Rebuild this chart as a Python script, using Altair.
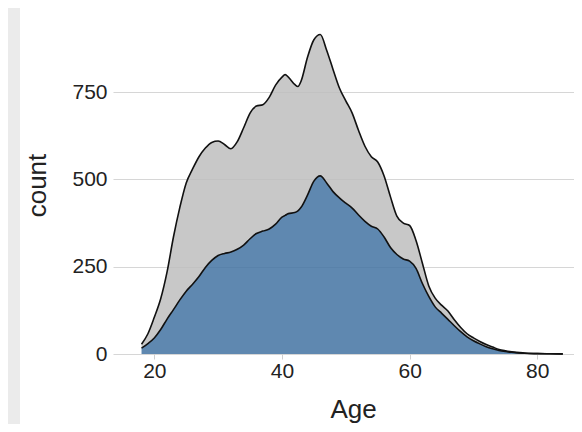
import altair as alt
import pandas as pd

# Age grid (years)
ages = [18, 19, 20, 21, 22, 23, 24, 25, 26, 27, 28, 29, 30, 31, 32, 33, 34, 35,
        36, 37, 38, 39, 40, 40.5, 41, 42, 42.5, 43, 44, 45, 46, 47, 48, 49, 50, 51,
        52, 53, 54, 55, 56, 57, 58, 59, 60, 61, 62, 63, 64, 65, 66, 67, 68, 69, 70,
        71, 72, 73, 74, 75, 76, 78, 80, 82, 84]

# Stacked total (top of grey layer)
total_count = [28, 58, 105, 158, 235, 335, 420, 490, 530, 565, 590, 606, 610, 600,
               588, 608, 648, 690, 710, 714, 735, 770, 793, 800, 793, 772, 766, 782,
               850, 900, 915, 870, 815, 762, 725, 690, 640, 595, 565, 550, 510, 450,
               395, 375, 368, 325, 260, 195, 160, 140, 123, 98, 76, 58, 46, 36, 27,
               20, 13, 9, 6, 3, 1.5, 0.8, 0.3]

# Lower (blue) group
blue_count = [17, 30, 46, 70, 100, 127, 155, 180, 200, 222, 248, 268, 282, 288,
              292, 300, 312, 330, 345, 352, 358, 372, 392, 397, 402, 405, 410, 420,
              455, 495, 510, 490, 465, 447, 432, 418, 398, 380, 366, 358, 335, 305,
              285, 272, 266, 245, 202, 165, 135, 117, 99, 81, 64, 49, 38, 29, 21,
              15, 10, 7, 5, 2, 1, 0.5, 0.2]

x_ticks = [20, 40, 60, 80]
y_ticks = [0, 250, 500, 750]

df = pd.DataFrame({"Age": ages, "total": total_count, "blue": blue_count})

x_enc = alt.X("Age:Q", scale=alt.Scale(domain=[13.53, 85.75], nice=False, zero=False),
              axis=alt.Axis(values=x_ticks, title="Age", grid=False, domain=False,
                            ticks=True, tickSize=5, tickColor="#cfcfcf", tickWidth=1,
                            labelFontSize=21, labelColor="#222222",
                            labelBaseline="alphabetic", labelPadding=18,
                            titleFontSize=26, titleFontWeight="normal", titleColor="#222222",
                            titleX=240, titleY=63, titleBaseline="alphabetic",
                            titleAlign="center"))

y_scale = alt.Scale(domain=[0, 968], nice=False)
y_axis = alt.Axis(values=y_ticks, title="count", grid=True, gridColor="#d6d6d6",
                  gridWidth=1.2, domain=False, ticks=False, labelPadding=6,
                  labelFontSize=21, labelColor="#222222",
                  titleFontSize=26, titleFontWeight="normal", titleColor="#222222",
                  titleX=-76, titleY=169, titleAngle=270, titleBaseline="middle",
                  titleAlign="center")

base = alt.Chart(df)

grey_area = base.mark_area(interpolate="monotone", color="#bebebe", opacity=0.85).encode(
    x=x_enc,
    y=alt.Y("total:Q", scale=y_scale, axis=y_axis),
    y2="blue:Q",
)

blue_area = base.mark_area(interpolate="monotone", color="#4373a2", opacity=0.85).encode(
    x="Age:Q",
    y="blue:Q",
)

top_line = base.mark_line(interpolate="monotone", color="#111111", strokeWidth=1.6).encode(
    x="Age:Q",
    y="total:Q",
)

blue_line = base.mark_line(interpolate="monotone", color="#111111", strokeWidth=1.6).encode(
    x="Age:Q",
    y="blue:Q",
)

strip = alt.Chart(alt.Data(values=[{}])).mark_rect(color="#ebebeb").encode(
    x=alt.value(-105), x2=alt.value(-93), y=alt.value(-8), y2=alt.value(408)
)

chart = alt.layer(strip, grey_area, blue_area, top_line, blue_line).properties(
    width=461,
    height=338,
    autosize=alt.AutoSizeParams(type="none"),
    padding={"left": 105, "top": 8, "right": 0, "bottom": 70},
    background="white",
).configure(font="Liberation Sans").configure_view(strokeWidth=0, stroke="transparent")

chart.save("out.html", embed_options={"renderer": "svg", "actions": False})
